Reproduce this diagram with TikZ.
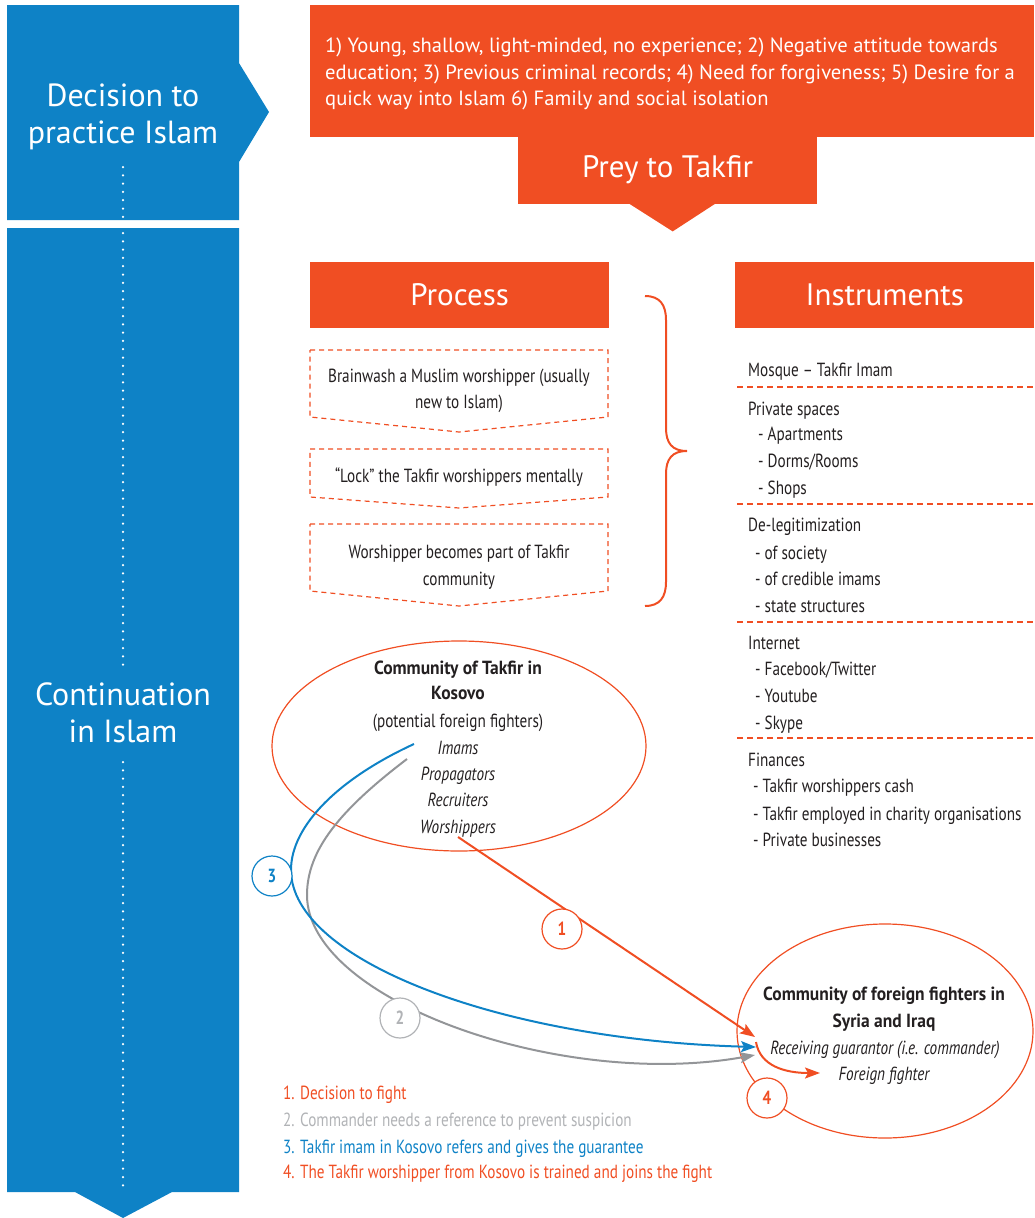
\documentclass[tikz,border=0pt]{standalone}
\usepackage{fontspec}
\setmainfont{PT Sans}
\newfontfamily\condfont[FakeStretch=0.8]{PT Sans}
\newfontfamily\condwide[FakeStretch=0.92]{PT Sans}
\usetikzlibrary{arrows.meta,shapes.geometric,calc}

\definecolor{stageblue}{HTML}{0E82C6}
\definecolor{takfirorange}{HTML}{F04E23}
\definecolor{bodytext}{HTML}{231F20}
\definecolor{refgray}{HTML}{939598}
\definecolor{reflight}{HTML}{B1B3B6}

\begin{document}
\begin{tikzpicture}[x=1pt,y=-1pt,
		stagetext/.style={text=white,align=center,font=\fontsize{32}{36.5}\selectfont},
		headbox/.style={fill=takfirorange,text=white,anchor=north west,minimum width=299pt,minimum height=66pt,font=\fontsize{31}{36}\selectfont},
		steptext/.style={text=bodytext,align=center,font=\condfont\fontsize{19}{26.5}\selectfont},
		dashbox/.style={draw=takfirorange,line width=1.2pt,dash pattern=on 5pt off 4pt},
		listitem/.style={anchor=base west,inner sep=0pt,text=bodytext,font=\condfont\fontsize{19}{26.5}\selectfont},
		circtext/.style={anchor=base,inner sep=0pt,text=bodytext,font=\condfont\fontsize{19}{26.5}\selectfont},
		circbold/.style={circtext,font=\condwide\bfseries\fontsize{19}{26.5}\selectfont},
		circital/.style={circtext,font=\condfont\itshape\fontsize{19}{26.5}\selectfont},
		badge/.style={circle,draw=#1,text=#1,fill=white,line width=1.2pt,minimum size=40pt,inner sep=0pt,font=\condfont\bfseries\fontsize{19}{19}\selectfont},
		link/.style={line width=2pt,-{Stealth[length=15pt,width=11pt,inset=3pt]}}]
		\useasboundingbox (0,0) rectangle (1034,1218);% page as the reference

		% stages on the left
		\fill[stageblue] (7,5) -- (239,5) -- (239,63) -- (269,112) -- (239,162) -- (239,220) -- (7,220) -- cycle;
		\fill[stageblue] (7,228) -- (239,228) -- (239,1192) -- (172,1192) -- (123,1218) -- (75,1192) -- (7,1192) -- cycle;
		\node[stagetext] (decision) at (123,117) {Decision to\\practice Islam};
		\node[stagetext] (continuation) at (123,713) {Continuation\\in Islam};
		\foreach \a/\b in {167/220, 233/666, 762/1190}
			\draw[white,line width=2.5pt,line cap=round,dash pattern=on 0pt off 8.3pt] (123,\a) -- (123,\b);

		% traits and prey
		\node[fill=takfirorange,anchor=north west,minimum width=724pt,minimum height=132pt] (traits) at (310,5) {};
		\node[anchor=west,text=white,align=left,inner sep=0pt,font=\fontsize{20.6}{26.5}\selectfont] (traits-text) at ($(traits.west)+(15,3)$)
			{1) Young, shallow, light-minded, no experience; 2) Negative attitude towards\\education; 3) Previous criminal records; 4) Need for forgiveness; 5) Desire for a\\quick way into Islam 6) Family and social isolation};
		\node[headbox,minimum width=299pt,minimum height=68pt] (prey) at (518,136) {Prey to Takfir};
		\fill[takfirorange] ($(prey.south)+(-39,-1)$) -- ($(prey.south)+(48,-1)$) -- ($(prey.south)+(5,27)$) -- cycle;

		% process
		\node[headbox] (process) at (310,262) {Process};
		\node[headbox] (instruments) at (735,262) {Instruments};
		\foreach \t/\s/\b in {350/417/432, 449/497/508, 524/591/606}
			\draw[dashbox] (310,\t) -- (608,\t) -- (608,\s) -- (459,\b) -- (310,\s) -- cycle;
		\node[steptext] (brainwash) at (459,391) {Brainwash a Muslim worshipper (usually\\new to Islam)};
		\node[steptext] (lock) at (459,477) {“Lock” the Takfir worshippers mentally};
		\node[steptext] (becomes) at (459,567) {Worshipper becomes part of Takfir\\community};
		\draw[takfirorange,line width=2pt] (645,296) .. controls (660,296) and (666,305) .. (666,320) -- (666,428)
			.. controls (666,443) and (672,451) .. (687,451) .. controls (672,451) and (666,459) .. (666,474) -- (666,582)
			.. controls (666,597) and (660,606) .. (645,606);

		% instruments
		\foreach \y/\x/\txt [count=\i] in {376/748/{Mosque – Takfir Imam}, 415/748/{Private spaces}, 440/758/{- Apartments},
			467/758/{- Dorms/Rooms}, 494/758/{- Shops}, 531/748/{De-legitimization}, 559/755/{- of society},
			585/755/{- of credible imams}, 612/755/{- state structures}, 649/748/{Internet}, 675/755/{- Facebook/Twitter},
			702/755/{- Youtube}, 729/755/{- Skype}, 766/748/{Finances}, 792/753/{- Takfir worshippers cash},
			820/753/{- Takfir employed in charity organisations}, 846/753/{- Private businesses}}
			\node[listitem] (instr-\i) at (\x,\y) {\txt};
		\foreach \y in {387,504,622,738}
			\draw[takfirorange,line width=1.2pt,dash pattern=on 6pt off 4pt] (737,\y) -- (1034,\y);

		% the two communities
		\node[draw=takfirorange,line width=1.2pt,ellipse,minimum width=374pt,minimum height=210pt] (kosovo) at (459,746) {};
		\node[draw=takfirorange,line width=1.2pt,ellipse,minimum width=296pt,minimum height=214pt] (syria) at (885,1031) {};
		\node[circbold] (kosovo-title) at (458,674) {Community of Takfir in};
		\node[circbold] (kosovo-place) at (458,699) {Kosovo};
		\node[circtext] (potential) at (458,727) {(potential foreign fighters)};
		\node[circital] (imams) at (458,754) {Imams};
		\node[circital] (propagators) at (458,780) {Propagators};
		\node[circital] (recruiters) at (458,806) {Recruiters};
		\node[circital] (worshippers) at (458,833) {Worshippers};
		\node[circbold] (syria-title) at (884,1000) {Community of foreign fighters in};
		\node[circbold] (syria-place) at (884,1027) {Syria and Iraq};
		\node[circital] (guarantor) at (885,1054) {Receiving guarantor (i.e. commander)};
		\node[circital] (fighter) at (884,1080) {Foreign fighter};

		% links
		\coordinate (from2) at (407,759);
		\coordinate (from3) at (414,744);
		\coordinate (from4) at (756,1042);
		\coordinate (to1) at (755,1037);
		\coordinate (to2) at (755,1055);
		\coordinate (to3) at (756,1047);
		\coordinate (to4) at (820,1073);
		\draw[link,refgray] (from2) .. controls (340,810) and (307,850) .. (307,895) .. controls (307,1000) and (560,1090) .. (to2);
		\draw[link,stageblue] (from3) .. controls (340,778) and (291,825) .. (291,870) .. controls (291,960) and (500,1040) .. (to3);
		\draw[link,takfirorange] (worshippers.south) -- (to1);
		\draw[link,takfirorange] (from4) .. controls (760,1066) and (785,1073) .. (to4);
		\node[badge=takfirorange] (n1) at (562,929) {1};
		\node[badge=reflight] (n2) at (400,1018) {2};
		\node[badge=stageblue] (n3) at (272,876) {3};
		\node[badge=takfirorange] (n4) at (767,1098) {4};

		% legend
		\node[listitem,text=takfirorange] (legend-1) at (283,1099) {1. Decision to fight};
		\node[listitem,text=reflight] (legend-2) at (283,1126) {2. Commander needs a reference to prevent suspicion};
		\node[listitem,text=stageblue] (legend-3) at (283,1153) {3. Takfir imam in Kosovo refers and gives the guarantee};
		\node[listitem,text=takfirorange] (legend-4) at (283,1178) {4. The Takfir worshipper from Kosovo is trained and joins the fight};
	\end{tikzpicture}
\end{document}
